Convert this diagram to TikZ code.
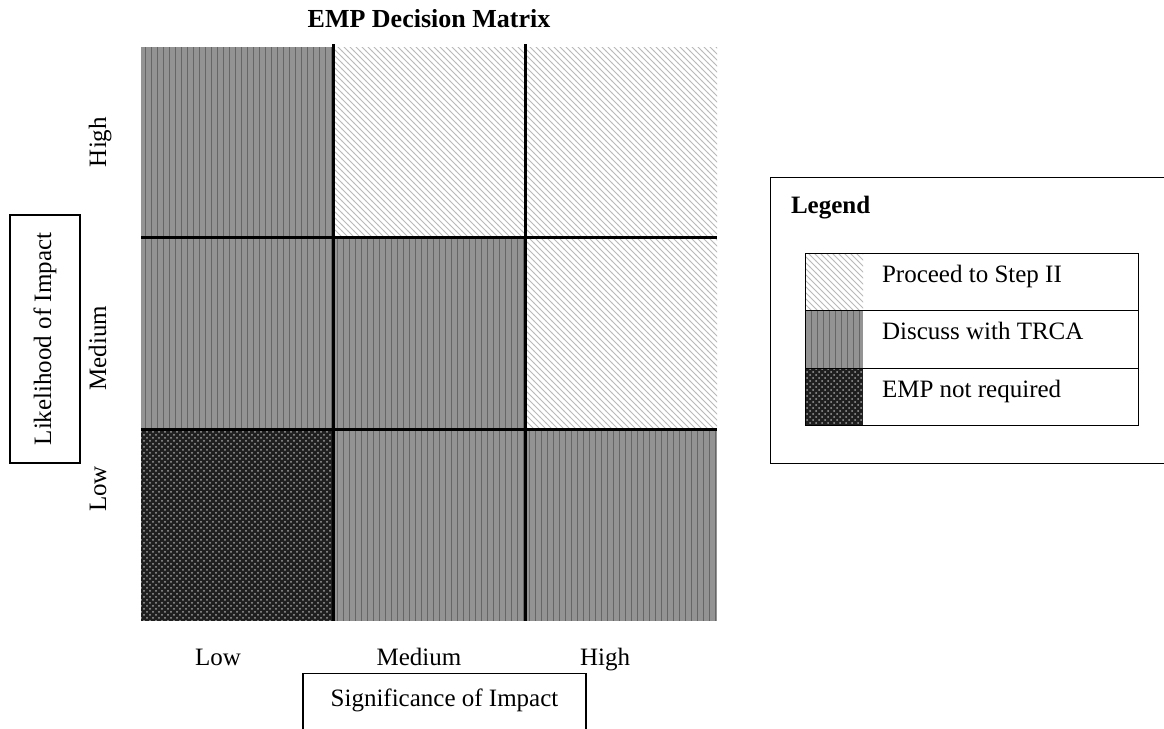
\documentclass[tikz,border=0pt]{standalone}
\usepackage{fontspec}
\setmainfont{Liberation Serif}
\usepackage{xcolor}
\usepackage{tikz}
\usetikzlibrary{patterns, positioning}

\begin{document}
\begin{tikzpicture}[x=0.5pt, y=-0.5pt, font=\fontsize{12.5}{15}\selectfont,
  proceed/.style={preaction={fill=white}, pattern=north west lines, pattern color=gray!55},
  discuss/.style={preaction={fill=gray!85}, pattern=vertical lines, pattern color=black!60},
  noemp/.style={preaction={fill=black!88}, pattern=crosshatch dots, pattern color=gray!75},
  gridline/.style={line width=1.5pt},
  labelbox/.style={draw, line width=0.7pt},
  legline/.style={draw, line width=0.5pt}]
  \useasboundingbox (0,0) rectangle (1164,729);
  % matrix cells
  \foreach \c/\r/\s in {0/0/discuss, 1/0/proceed, 2/0/proceed,
                        0/1/discuss, 1/1/discuss, 2/1/proceed,
                        0/2/noemp, 1/2/discuss, 2/2/discuss}
    \path[\s] ({141+192*\c},{47+191.3*\r}) rectangle ++(192,191.3);
  \draw[gridline] (333,44) -- (333,621);
  \draw[gridline] (525,44) -- (525,621);
  \draw[gridline] (141,237) -- (717,237);
  \draw[gridline] (141,429) -- (717,429);
  \node[anchor=base, font=\bfseries\fontsize{13}{15}\selectfont] (title) at (429,27) {EMP Decision Matrix};
  % axis labels
  \foreach \y/\l/\n in {142/High/rowh, 348/Medium/rowm, 489/Low/rowl}
    \node[rotate=90, anchor=base] (\n) at (106,\y) {\l};
  \foreach \x/\l/\n in {218/Low/coll, 419/Medium/colm, 605/High/colh}
    \node[anchor=base] (\n) at (\x,665) {\l};
  \node[labelbox, rotate=90, minimum width=124pt, minimum height=35pt] (likely) at (45,339) {Likelihood of Impact};
  \node[labelbox, anchor=north, inner sep=0pt, minimum width=141.5pt,
        text height=16.5pt, text depth=16pt] (signif) at (444.5,673) {Significance of Impact};
  % legend
  \node[labelbox, line width=0.6pt, anchor=north west, minimum width=210pt, minimum height=143pt] (legbox) at (770,177) {};
  \node[anchor=base west, font=\bfseries\fontsize{12.5}{15}\selectfont] (legtitle) at (784,213) {Legend};
  \foreach \y/\s/\l/\n in {253/proceed/Proceed to Step II/legp,
                           310.5/discuss/Discuss with TRCA/legd,
                           368/noemp/EMP not required/legn} {
    \path[\s] (805,\y) rectangle ++(58,57.5);
    \draw[legline] (805,\y) rectangle ++(333,57.5);
    \node[anchor=base west] (\n) at (875,{\y+29}) {\l};
  }
\end{tikzpicture}
\end{document}
